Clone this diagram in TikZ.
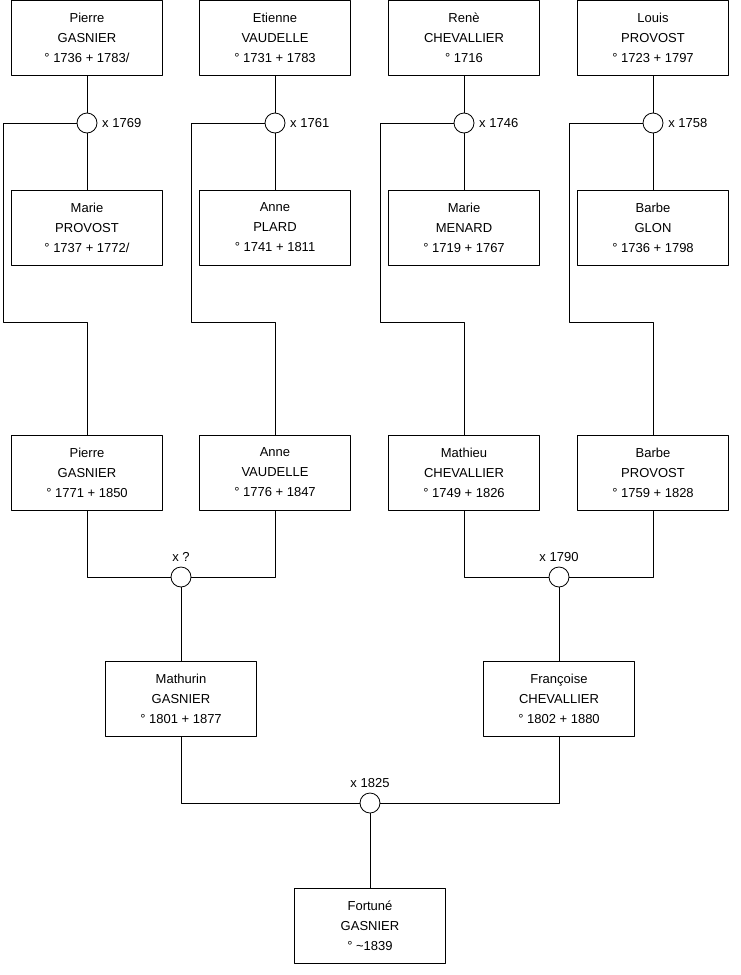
\documentclass[tikz,border=0pt]{standalone}
\usepackage{fontspec}
\setmainfont{Liberation Sans}
\begin{document}
\begin{tikzpicture}[x=0.75pt,y=-0.75pt,line join=round,line width=0.6pt,font=\fontsize{9.75}{15}\selectfont,
	person/.style={draw,rectangle,minimum width=113.25pt,minimum height=56.25pt,inner sep=0pt,align=center,fill=white},
	wed/.style={draw,circle,minimum size=15pt,inner sep=0pt,fill=white}]
	\useasboundingbox (0,0) rectangle (740,975);
	% grands-parents et arriere-grands-parents
	\node[person] (pgA) at (87,38) {Pierre\\GASNIER\\° 1736 + 1783/};
	\node[person] (ev) at (275,38) {Etienne\\VAUDELLE\\° 1731 + 1783};
	\node[person] (rc) at (464,38) {Renè\\CHEVALLIER\\° 1716};
	\node[person] (lp) at (653,38) {Louis\\PROVOST\\° 1723 + 1797};
	\node[person] (mp) at (87,227.5) {Marie\\PROVOST\\° 1737 + 1772/};
	\node[person] (apl) at (275,227.5) {Anne\\PLARD\\° 1741 + 1811};
	\node[person] (mm) at (464,227.5) {Marie\\MENARD\\° 1719 + 1767};
	\node[person] (bg) at (653,227.5) {Barbe\\GLON\\° 1736 + 1798};
	\node[person] (pgB) at (87,472.5) {Pierre\\GASNIER\\° 1771 + 1850};
	\node[person] (av) at (275,472.5) {Anne\\VAUDELLE\\° 1776 + 1847};
	\node[person] (mc) at (464,472.5) {Mathieu\\CHEVALLIER\\° 1749 + 1826};
	\node[person] (bp) at (653,472.5) {Barbe\\PROVOST\\° 1759 + 1828};
	\node[person] (mg) at (181,699) {Mathurin\\GASNIER\\° 1801 + 1877};
	\node[person] (fc) at (559,699) {Françoise\\CHEVALLIER\\° 1802 + 1880};
	\node[person] (fg) at (370,926) {Fortuné\\GASNIER\\° \textasciitilde1839};
	% mariages
	\foreach \w/\x/\d in {wa/87/1769,wb/275/1761,wc/464/1746,wd/653/1758}
		{\node[wed,label={[label distance=0pt]right:x \d}] (\w) at (\x,123) {};
		 \coordinate (k\w) at (\x-84,322);}
	\node[wed,label=above:x ?] (we) at (181,577) {};
	\node[wed,label=above:x 1790] (wf) at (559,577) {};
	\node[wed,label=above:x 1825] (wg) at (370,803) {};
	% liens
	\foreach \h/\w/\f/\c in {pgA/wa/mp/pgB,ev/wb/apl/av,rc/wc/mm/mc,lp/wd/bg/bp}
		{\draw (\h) -- (\w) -- (\f);
		 \draw (\w.west) -| (k\w) -| (\c.north);}
	\draw (pgB.south) |- (we.west) (av.south) |- (we.east) (we) -- (mg);
	\draw (mc.south) |- (wf.west) (bp.south) |- (wf.east) (wf) -- (fc);
	\draw (mg.south) |- (wg.west) (fc.south) |- (wg.east) (wg) -- (fg);
\end{tikzpicture}
\end{document}
